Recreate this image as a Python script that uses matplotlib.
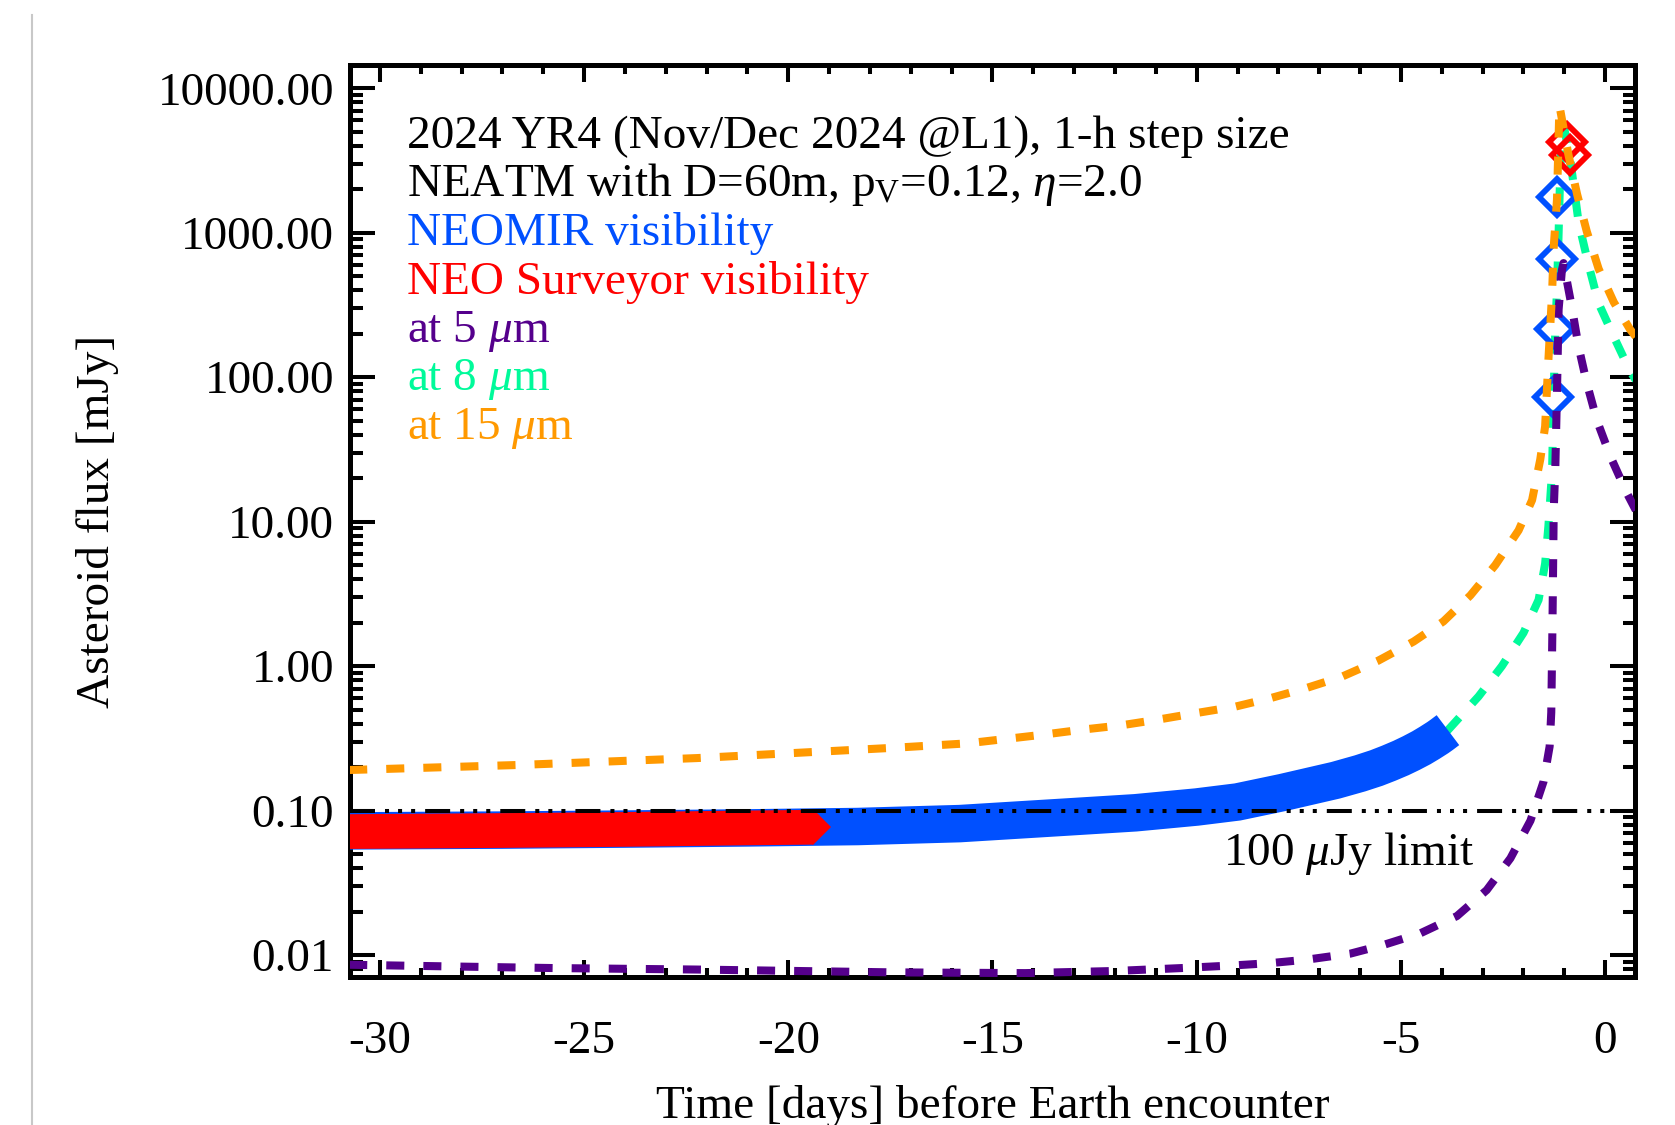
import matplotlib
matplotlib.use("Agg")
import matplotlib.pyplot as plt
from matplotlib.lines import Line2D
from matplotlib.ticker import FixedLocator, MultipleLocator, LogLocator, FormatStrFormatter, NullFormatter

# 5 micron flux [mJy]
t5 = [-30.75, -28.0, -25.74, -22.24, -17.42, -14.2, -12.0, -10.37, -9.0, -8.19, -7.3, -6.24,
      -5.43, -4.53, -3.63, -2.9, -2.32, -1.83, -1.51, -1.36, -1.32, -1.29, -1.26, -1.22, -1.18,
      -1.14, -1.06, -1.02, -0.82, -0.65, -0.45, -0.20, 0.13, 0.53, 0.75]
f5 = [0.00857, 0.00832, 0.00813, 0.00794, 0.00759, 0.0075, 0.00776, 0.00813, 0.00851, 0.0088,
      0.0093, 0.01023, 0.01175, 0.01413, 0.01862, 0.02818, 0.04677, 0.0851, 0.1585, 0.278, 0.479,
      2.0, 12.0, 24.0, 79.0, 295, 550, 617, 309, 162, 91, 50, 28.2, 15.8, 12.0]

# 8 micron flux [mJy]
t8 = [-30.75, -27, -24, -21, -18.3, -15.8, -13.2, -11.5, -10, -9, -7.9, -6.6, -6.0, -5.6, -5.3,
      -5.0, -4.75, -4.5, -4.3, -4.1, -4.0, -3.85, -3.10, -2.53, -2.0, -1.63, -1.47, -1.39, -1.30,
      -1.26, -1.22, -1.18, -1.14, -1.10, -1.06, -1.0, -0.94, -0.86, -0.65, -0.40, -0.16, 0.21,
      0.61, 0.75]
f8 = [0.0724, 0.0733, 0.0745, 0.0759, 0.0776, 0.0813, 0.0902, 0.0966, 0.1059, 0.1148, 0.1334,
      0.1622, 0.1811, 0.1972, 0.2128, 0.2312, 0.25, 0.2723, 0.2944, 0.3199, 0.335, 0.3606, 0.617,
      1.0, 1.70, 2.88, 5.13, 9.33, 22.4, 79.4, 224, 398, 1000, 2690, 4900, 5250, 4270, 3310,
      1175, 589, 324, 191, 110, 95.5]

# 15 micron flux [mJy]
t15 = [-30.75, -26.6, -22.24, -17.44, -15.62, -13.78, -12.82, -11.86, -10.98, -10.02, -9.05,
       -8.19, -7.32, -6.44, -5.56, -4.69, -3.96, -3.30, -2.69, -2.12, -1.79, -1.59, -1.47, -1.39,
       -1.30, -1.26, -1.18, -1.12, -0.90, -0.69, -0.45, -0.16, 0.21, 0.61, 0.75]
f15 = [0.191, 0.207, 0.231, 0.272, 0.292, 0.335, 0.363, 0.389, 0.425, 0.473, 0.525, 0.601, 0.705,
       0.847, 1.09, 1.48, 2.04, 3.09, 5.01, 8.71, 14.1, 26.9, 45.7, 132, 380, 794, 1700, 7590,
       3470, 1860, 1020, 562, 331, 214, 191]

# NEOMIR visibility (hourly points merge into a band)
t_neomir = [-30.75, -27, -24, -21, -18.3, -15.8, -13.2, -11.5, -10, -9, -7.9, -6.6, -6.0, -5.6,
            -5.3, -5.0, -4.75, -4.5, -4.3, -4.1, -4.0, -3.85]
f_neomir = [0.0724, 0.0733, 0.0745, 0.0759, 0.0776, 0.0813, 0.0902, 0.0966, 0.1059, 0.1148,
            0.1334, 0.1622, 0.1811, 0.1972, 0.2128, 0.2312, 0.25, 0.2723, 0.2944, 0.3199, 0.335,
            0.3606]
t_neomir_pk = [-1.27, -1.22, -1.18, -1.18]
f_neomir_pk = [72.4, 214, 661, 1780]

# NEO Surveyor visibility
t_surv = [-30.75, -27, -24, -21, -19.4]
f_surv = [0.0716, 0.0728, 0.0741, 0.0759, 0.0767]
t_surv_pk = [-0.94, -0.86]
f_surv_pk = [4270, 3470]

yticks = [0.01, 0.1, 1, 10, 100, 1000, 10000]

c_blue = '#0050ff'
c_red = '#ff0000'
c_purple = '#55008c'
c_green = '#00fa9a'
c_orange = '#ff9900'

plt.rcParams['font.family'] = ['Liberation Serif', 'DejaVu Serif']
plt.rcParams['mathtext.fontset'] = 'custom'
plt.rcParams['mathtext.rm'] = 'Liberation Serif'
plt.rcParams['mathtext.it'] = 'Liberation Serif:italic'
plt.rcParams['axes.unicode_minus'] = False
plt.rcParams['lines.scale_dashes'] = False

fig = plt.figure(figsize=(16.75, 11.25), dpi=100)
ax = fig.add_axes([350 / 1675, 148 / 1125, 1285 / 1675, 912 / 1125])
ax.set_yscale('log')
ax.set_xlim(-30.73, 0.73)
ax.set_ylim(0.00705, 14500)

dash = (0, (13, 13.7))
ax.plot(t8, f8, color=c_green, lw=5.8, ls=dash, zorder=2)
ax.plot(t_neomir, f_neomir, color=c_blue, lw=27, solid_capstyle='butt',
        solid_joinstyle='round', zorder=3)
ax.plot(t_surv, f_surv, color=c_red, lw=25, solid_capstyle='butt',
        marker='D', ms=18, mew=0, markevery=[len(t_surv) - 1], zorder=3)
ax.plot(t_neomir_pk, f_neomir_pk, ls='none', marker='D', ms=18.5, mfc='none',
        mec=c_blue, mew=4.2, zorder=4)
ax.plot(t_surv_pk, f_surv_pk, ls='none', marker='D', ms=18.5, mfc='none',
        mec=c_red, mew=4.2, zorder=4)
ax.plot(t5, f5, color=c_purple, lw=5.8, ls=dash, zorder=5)
ax.plot(t15, f15, color=c_orange, lw=5.8, ls=dash, zorder=5)

# 100 microJy limit
ax.axhline(0.1, color='black', lw=2.9,
           ls=(0, (18, 7.2, 2.9, 6.5, 2.9, 6.5, 2.9, 7.2)), zorder=6)

fs = 34
ax.text(0.6794, 0.1228, r'100 $\mu$Jy limit', transform=ax.transAxes, fontsize=fs,
        ha='left', va='baseline')

lines = [
    ('2024 YR4 (Nov/Dec 2024 @L1), 1-h step size', 'black'),
    (r'NEATM with D=60m, $\mathrm{p_V}$=0.12, $\eta$=2.0', 'black'),
    ('NEOMIR visibility', c_blue),
    ('NEO Surveyor visibility', c_red),
    (r'at 5 $\mu$m', c_purple),
    (r'at 8 $\mu$m', c_green),
    (r'at 15 $\mu$m', c_orange),
]
for i, (s, c) in enumerate(lines):
    yb = 148 + 48.5 * i
    ax.text((407 - 350) / 1285, (977 - yb) / 912, s, color=c, fontsize=fs,
            transform=ax.transAxes, ha='left', va='baseline')

# axes, ticks
for sp in ax.spines.values():
    sp.set_linewidth(3.6)
ax.xaxis.set_major_locator(MultipleLocator(5))
ax.xaxis.set_minor_locator(MultipleLocator(1))
ax.yaxis.set_major_locator(FixedLocator(yticks))
ax.yaxis.set_minor_locator(LogLocator(base=10, subs=range(2, 10), numticks=20))
ax.yaxis.set_major_formatter(FormatStrFormatter('%.2f'))
ax.yaxis.set_minor_formatter(NullFormatter())
ax.tick_params(which='both', direction='in', top=True, right=True, width=2.9, labelsize=fs)
ax.tick_params(axis='x', which='major', length=12.5, pad=31)
ax.tick_params(axis='x', which='minor', length=6.5)
ax.tick_params(axis='y', which='major', length=18, pad=11.5)
ax.tick_params(axis='y', which='minor', length=9)

ax.set_xlabel('Time [days] before Earth encounter', fontsize=fs)
ax.set_ylabel('Asteroid flux [mJy]', fontsize=fs)
ax.xaxis.set_label_coords(0.5, -0.118)
ax.yaxis.set_label_coords(-0.18, 0.5)

# thin page border seen on the left of the screenshot
fig.add_artist(Line2D([32 / 1675, 32 / 1675], [0, 1 - 15 / 1125], transform=fig.transFigure,
                      color='#c8c8c8', lw=1.5))

fig.savefig('out.png', dpi=100)
